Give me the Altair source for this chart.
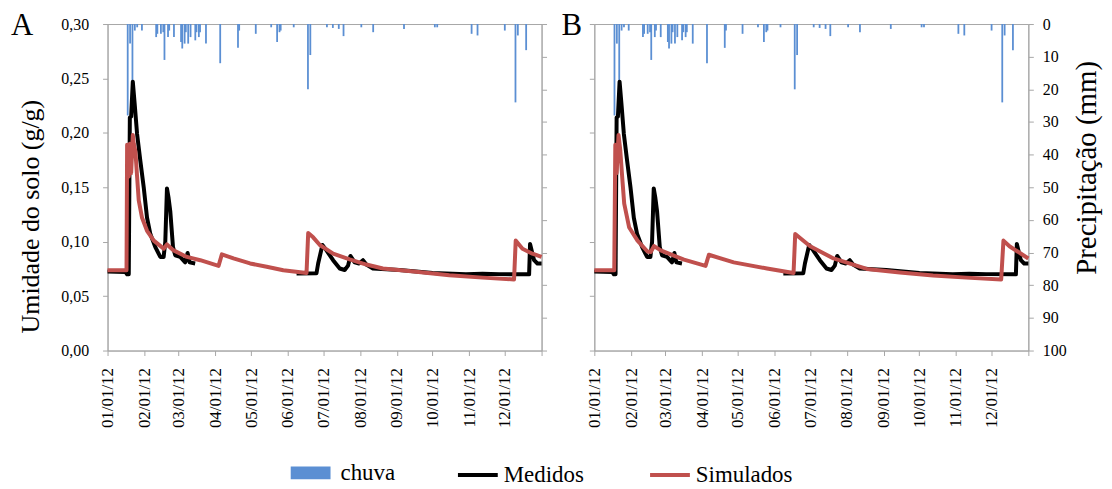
import altair as alt
import pandas as pd

START = pd.Timestamp("2012-01-01")

# ---- Medidos (measured soil moisture, g/g) : days since 01/01/12 ----
med1_day = [0, 15.1, 16.5, 17.9, 18.8, 19.9, 21.3, 23.0, 24.9, 27.7, 30.5, 33.3, 36.1, 40.3, 44.5,
            47.3, 48.7, 50.1, 51.5, 52.9, 55.2, 57.1, 61.3, 65.5, 67.5, 69.2, 73.9]
med1_val = [0.0725, 0.0722, 0.0700, 0.0700, 0.214, 0.215, 0.247, 0.225, 0.199, 0.174, 0.150, 0.122, 0.107,
            0.095, 0.086, 0.086, 0.100, 0.149, 0.140, 0.128, 0.095, 0.0875, 0.086, 0.081, 0.0896, 0.081, 0.080]
med2_day = [159.4, 176.2, 177.6, 181.2, 184.6, 190.2, 195.8, 200.0, 202.8, 204.8, 208.4, 212.1, 215.4,
            218.2, 223.8, 246.2, 274.2, 302.2, 316.2, 330.3, 355.5, 356.3, 358.3, 359.7, 362.5, 366.0]
med2_val = [0.0708, 0.0710, 0.080, 0.097, 0.092, 0.083, 0.0754, 0.074, 0.078, 0.0869, 0.081, 0.080, 0.083,
            0.079, 0.0754, 0.074, 0.0713, 0.0702, 0.0705, 0.0702, 0.0700, 0.098, 0.089, 0.083, 0.080, 0.080]

# ---- Simulados, panel A ----
simA_day = [0, 16.0, 16.5, 17.9, 18.8, 19.9, 21.3, 22.1, 23.5, 24.9, 26.3, 29.1, 33.3, 39.0, 47.3, 50.1,
            55.7, 66.9, 78.2, 93.6, 96.4, 106.2, 120.2, 134.2, 148.2, 167.8, 169.2, 173.4, 179.0, 190.2,
            204.2, 218.2, 232.2, 260.2, 288.2, 316.2, 342.8, 344.2, 349.9, 358.3, 366.0]
simA_val = [0.0738, 0.0738, 0.189, 0.160, 0.190, 0.163, 0.198, 0.190, 0.183, 0.160, 0.138, 0.122, 0.110,
            0.101, 0.0936, 0.0975, 0.092, 0.086, 0.083, 0.0778, 0.0884, 0.0846, 0.080, 0.077, 0.0738, 0.0713,
            0.108, 0.104, 0.097, 0.089, 0.0837, 0.079, 0.0754, 0.0724, 0.0692, 0.067, 0.0653, 0.101, 0.0936,
            0.089, 0.086]

# ---- Simulados, panel B ----
simB_day = [0, 16.8, 17.7, 18.8, 20.4, 21.8, 23.8, 25.2, 29.4, 36.4, 44.8, 47.6, 50.4, 56.0, 75.6, 93.8,
            96.6, 117.6, 145.6, 168.0, 169.4, 182.0, 201.7, 229.7, 257.7, 285.7, 313.7, 343.1, 345.0, 350.1,
            366.0]
simB_val = [0.0738, 0.0738, 0.189, 0.163, 0.198, 0.185, 0.155, 0.135, 0.113, 0.101, 0.091, 0.0905, 0.096,
            0.092, 0.0835, 0.0778, 0.088, 0.081, 0.0754, 0.0713, 0.107, 0.0958, 0.0846, 0.075, 0.0717, 0.0689,
            0.067, 0.0653, 0.101, 0.0958, 0.0846]

# ---- chuva (rain, mm) ----
rain_day = [17, 19, 21, 23, 25, 29, 41, 42, 45, 47, 48, 51, 52, 56, 62, 63, 65, 66, 68, 70, 74, 75, 77, 78,
            83, 95, 110, 111, 125, 138, 143, 145, 146, 157, 169, 171, 185, 190, 195, 199, 214, 224, 250,
            276, 278, 307, 312, 335, 344, 346, 353]
rain_mm = [28, 6, 25, 2, 1, 2, 4, 3, 3, 2.5, 11, 4, 2, 4, 5.5, 7.5, 6, 2.5, 6, 4, 5, 2.5, 4, 2.5,
           6, 12, 7.3, 2, 3, 1, 5.5, 2.5, 2, 1, 20, 9.5, 1, 1.2, 1.5, 3.7, 1, 2.5, 1.5,
           1, 1, 3, 3.5, 2, 24, 3.5, 8]

month_ticks = list(range(1, 13))

RED = "#c0504d"
BLUE = "#5b8fd3"
AXC = "#a6a6a6"
FONT = "Liberation Serif"


def to_dates(days):
    return [(START + pd.Timedelta(days=float(d))).strftime("%Y-%m-%dT%H:%M:%S") for d in days]


med_df = pd.DataFrame({
    "date": to_dates(med1_day) + to_dates(med2_day),
    "val": med1_val + med2_val,
    "serie": ["Medidos"] * (len(med1_day) + len(med2_day)),
    "seg": ["a"] * len(med1_day) + ["b"] * len(med2_day),
})
rain_df = pd.DataFrame({"date": to_dates(rain_day), "mm": rain_mm, "serie": ["chuva"] * len(rain_day)})

x_enc = alt.X(
    "date:T",
    scale=alt.Scale(domain=[alt.DateTime(year=2012, month=1, date=1),
                            alt.DateTime(year=2013, month=1, date=1)], padding=0),
    axis=alt.Axis(
        values=[alt.DateTime(year=2012, month=m, date=1) for m in month_ticks]
        + [alt.DateTime(year=2013, month=1, date=1)],
        labelExpr="year(datum.value) > 2012 ? '' : timeFormat(datum.value, '%m/%d/%y')",
        labelAngle=-90, labelFontSize=17, labelPadding=12, tickSize=5, title=None,
        labelOverlap=False, labelFont=FONT,
    ),
)

fill_scale = alt.Scale(domain=["chuva"], range=[BLUE])
stroke_scale = alt.Scale(domain=["Medidos", "Simulados"], range=["#000000", RED])
moist_scale = alt.Scale(domain=[0, 0.30], nice=False, zero=True)
rain_scale = alt.Scale(domain=[0, 100], reverse=True, nice=False)
moist_vals = [0, 0.05, 0.10, 0.15, 0.20, 0.25, 0.30]
rain_vals = list(range(0, 101, 10))


def panel(sim_day, sim_val, letter, left_labels, right_labels):
    sim_df = pd.DataFrame({"date": to_dates(sim_day), "val": sim_val,
                           "serie": ["Simulados"] * len(sim_day)})

    if right_labels:
        rain_axis = alt.Axis(orient="right", values=rain_vals, tickSize=5, labelFontSize=16,
                             labelPadding=9, labelFont=FONT,
                             title="Precipitação (mm)", titleFontSize=29, titleFont=FONT,
                             titleAngle=270, titleBaseline="top", titlePadding=6, titleY=144)
    else:
        rain_axis = alt.Axis(orient="right", values=rain_vals, tickSize=5, labels=False, title=None)

    if left_labels:
        moist_axis = alt.Axis(orient="left", values=moist_vals, tickSize=5, labelFontSize=16,
                              labelPadding=14, labelFont=FONT,
                              labelExpr="replace(format(datum.value, '.2f'), '.', ',')",
                              title="Umidade do solo (g/g)", titleFontSize=26, titleFont=FONT,
                              titlePadding=17, titleY=193)
    else:
        moist_axis = alt.Axis(orient="left", values=moist_vals, tickSize=5, labels=False, title=None)

    bars = alt.Chart(rain_df).mark_bar(width=1.8).encode(
        x=x_enc,
        y=alt.Y("mm:Q", scale=rain_scale, axis=rain_axis),
        fill=alt.Fill("serie:N", scale=fill_scale, legend=alt.Legend(
            title=None, orient="none", legendX=184, legendY=431,
            symbolType="M-1,-0.32H1V0.32H-1Z", symbolSize=1600, symbolStrokeWidth=0,
            labelFontSize=23, labelOffset=10, labelFont=FONT)),
    )
    med = alt.Chart(med_df).mark_line(strokeWidth=4, strokeJoin="round").encode(
        x=x_enc,
        y=alt.Y("val:Q", scale=moist_scale, axis=moist_axis),
        stroke=alt.Stroke("serie:N", scale=stroke_scale, legend=alt.Legend(
            title=None, orient="none", legendX=350, legendY=431, direction="horizontal",
            symbolType="stroke", symbolSize=1600, symbolStrokeWidth=4,
            labelFontSize=23, labelOffset=4, columnPadding=58, labelFont=FONT)),
        detail="seg:N",
    )
    sim = alt.Chart(sim_df).mark_line(strokeWidth=4, strokeJoin="round").encode(
        x=x_enc,
        y=alt.Y("val:Q", scale=moist_scale, axis=moist_axis),
        stroke=alt.Stroke("serie:N", scale=stroke_scale),
    )
    lab = alt.Chart(pd.DataFrame({"t": [letter]})).mark_text(
        fontSize=31, font=FONT, align="left", baseline="alphabetic", color="black"
    ).encode(
        text="t:N",
        x=alt.value(-97 if left_labels else -33),
        y=alt.value(11),
    )
    lines = alt.layer(med, sim)
    return alt.layer(bars, lines, lab).resolve_scale(y="independent").properties(width=436, height=328)


chart = alt.hconcat(
    panel(simA_day, simA_val, "A", True, False),
    panel(simB_day, simB_val, "B", False, True),
    spacing=10,
).resolve_scale(fill="shared", stroke="shared").properties(
    padding={"left": 2, "top": 0, "right": 2, "bottom": 2}
).configure(
    font=FONT
).configure_view(
    stroke=AXC, strokeWidth=1
).configure_axis(
    domainColor=AXC, tickColor=AXC, grid=False, labelColor="black", titleColor="black",
    labelFont=FONT, titleFont=FONT, titleFontWeight="normal", domainWidth=1, tickWidth=1,
).configure_legend(
    labelColor="black", labelFont=FONT,
).configure_text(font=FONT)

chart.save("out.html", embed_options={"renderer": "svg", "actions": False})
